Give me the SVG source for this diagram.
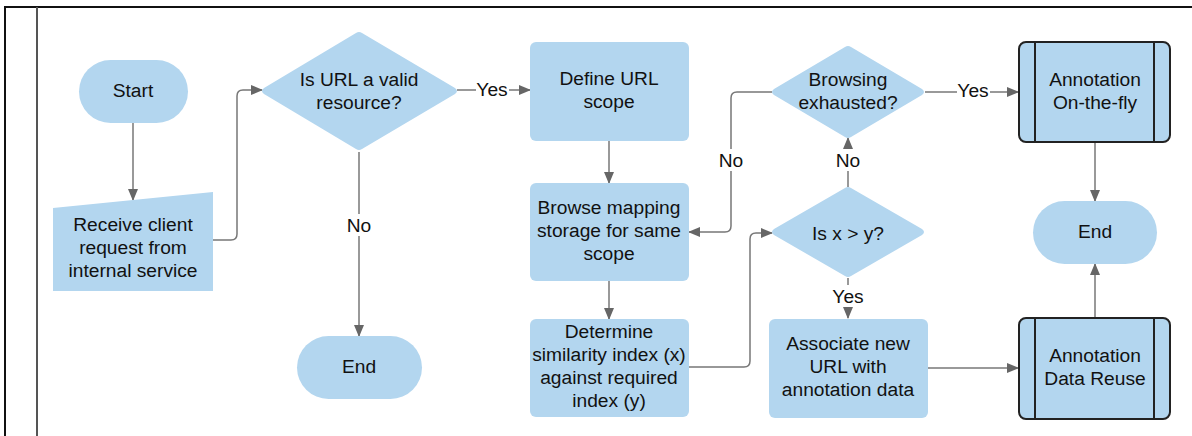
<svg xmlns="http://www.w3.org/2000/svg" width="1192" height="436" viewBox="0 0 1192 436">
<style>
.n{fill:#b3d6ef;stroke:none}
.p{fill:#b3d6ef;stroke:#222;stroke-width:2}
.pl{stroke:#222;stroke-width:2}
text{font-family:"Liberation Sans",Arial,sans-serif;font-size:19.2px;fill:#111;text-anchor:middle;dominant-baseline:central}
.c{fill:none;stroke:#777;stroke-width:1.5}
.lb{fill:#fff;stroke:none}
</style>
<defs>
<marker id="a" markerWidth="12" markerHeight="10" refX="11" refY="5" orient="auto" markerUnits="userSpaceOnUse">
<path d="M0,0 L12,5 L0,10 Z" fill="#666"/>
</marker>
</defs>
<rect width="1192" height="436" fill="#fff"/>
<g id="frame">
<path d="M5,436 V7 H1192" fill="none" stroke="#111" stroke-width="2"/>
<line x1="37" y1="7" x2="37" y2="436" stroke="#555" stroke-width="2"/>
</g>
<g id="connectors">
<path class="c" d="M133,123 V200" marker-end="url(#a)"/>
<path class="c" d="M213,240 H231 Q237,240 237,234 V96 Q237,90 243,90 H262" marker-end="url(#a)"/>
<path class="c" d="M457,90 H530" marker-end="url(#a)"/>
<path class="c" d="M359,152 V336" marker-end="url(#a)"/>
<path class="c" d="M609,141 V183" marker-end="url(#a)"/>
<path class="c" d="M609,281 V319" marker-end="url(#a)"/>
<path class="c" d="M772,92 H737 Q731,92 731,98 V226 Q731,232 725,232 H689" marker-end="url(#a)"/>
<path class="c" d="M689,367 H744 Q750,367 750,361 V239 Q750,233 756,233 H772" marker-end="url(#a)"/>
<path class="c" d="M848,187 V138" marker-end="url(#a)"/>
<path class="c" d="M848,278 V318" marker-end="url(#a)"/>
<path class="c" d="M925,92 H1018" marker-end="url(#a)"/>
<path class="c" d="M928,368 H1018" marker-end="url(#a)"/>
<path class="c" d="M1095,142 V201" marker-end="url(#a)"/>
<path class="c" d="M1095,318 V264" marker-end="url(#a)"/>
<rect class="lb" x="476" y="80" width="33" height="20"/>
<text x="492" y="89">Yes</text>
<rect class="lb" x="343" y="214" width="32" height="22"/>
<text x="359" y="225">No</text>
<rect class="lb" x="716" y="149" width="30" height="22"/>
<text x="731" y="160">No</text>
<rect class="lb" x="833" y="149" width="30" height="22"/>
<text x="848" y="160">No</text>
<rect class="lb" x="831" y="285" width="34" height="22"/>
<text x="848" y="296">Yes</text>
<rect class="lb" x="957" y="82" width="33" height="20"/>
<text x="973" y="90">Yes</text>
</g>
<g id="start">
<rect class="n" x="79" y="60" width="109" height="63" rx="31.5"/>
<text x="133" y="90">Start</text>
</g>
<g id="receive">
<path class="n" d="M53,208 L213,192 V291 H53 Z"/>
<text x="133" y="224">Receive client</text>
<text x="133" y="247">request from</text>
<text x="133" y="270">internal service</text>
</g>
<g id="valid">
<path class="n" d="M264,88 L356,33 Q359,31 362,33 L455,88 Q459,91 455,94 L362,149 Q359,151 356,149 L264,94 Q260,91 264,88 Z"/>
<text x="359" y="79">Is URL a valid</text>
<text x="359" y="102">resource?</text>
</g>
<g id="end1">
<rect class="n" x="297" y="336" width="125" height="63" rx="31.5"/>
<text x="359" y="366">End</text>
</g>
<g id="define">
<rect class="n" x="530" y="42" width="159" height="99" rx="6"/>
<text x="609" y="78">Define URL</text>
<text x="609" y="101">scope</text>
</g>
<g id="browse">
<rect class="n" x="530" y="183" width="159" height="98" rx="6"/>
<text x="609" y="207">Browse mapping</text>
<text x="609" y="230">storage for same</text>
<text x="609" y="253">scope</text>
</g>
<g id="determine">
<rect class="n" x="530" y="319" width="159" height="98" rx="6"/>
<text x="609" y="331">Determine</text>
<text x="609" y="354">similarity index (x)</text>
<text x="609" y="377">against required</text>
<text x="609" y="400">index (y)</text>
</g>
<g id="exhausted">
<path class="n" d="M774,89 L845,47 Q848,45 851,47 L922,89 Q926,92 922,95 L851,137 Q848,139 845,137 L774,95 Q770,92 774,89 Z"/>
<text x="848" y="79">Browsing</text>
<text x="848" y="102">exhausted?</text>
</g>
<g id="compare">
<path class="n" d="M774,229 L845,188 Q848,186 851,188 L922,229 Q926,232 922,235 L851,276 Q848,278 845,276 L774,235 Q770,232 774,229 Z"/>
<text x="848" y="233">Is x &gt; y?</text>
</g>
<g id="associate">
<rect class="n" x="769" y="319" width="159" height="99" rx="6"/>
<text x="848" y="343">Associate new</text>
<text x="848" y="366">URL with</text>
<text x="848" y="389">annotation data</text>
</g>
<g id="onthefly">
<rect class="p" x="1019" y="42" width="151" height="100" rx="7"/>
<line class="pl" x1="1035" y1="42" x2="1035" y2="142"/>
<line class="pl" x1="1154" y1="42" x2="1154" y2="142"/>
<text x="1095" y="79">Annotation</text>
<text x="1095" y="102">On-the-fly</text>
</g>
<g id="end2">
<rect class="n" x="1033" y="201" width="124" height="63" rx="31.5"/>
<text x="1095" y="231">End</text>
</g>
<g id="reuse">
<rect class="p" x="1019" y="318" width="151" height="101" rx="7"/>
<line class="pl" x1="1035" y1="318" x2="1035" y2="419"/>
<line class="pl" x1="1154" y1="318" x2="1154" y2="419"/>
<text x="1095" y="355">Annotation</text>
<text x="1095" y="378">Data Reuse</text>
</g>
</svg>
